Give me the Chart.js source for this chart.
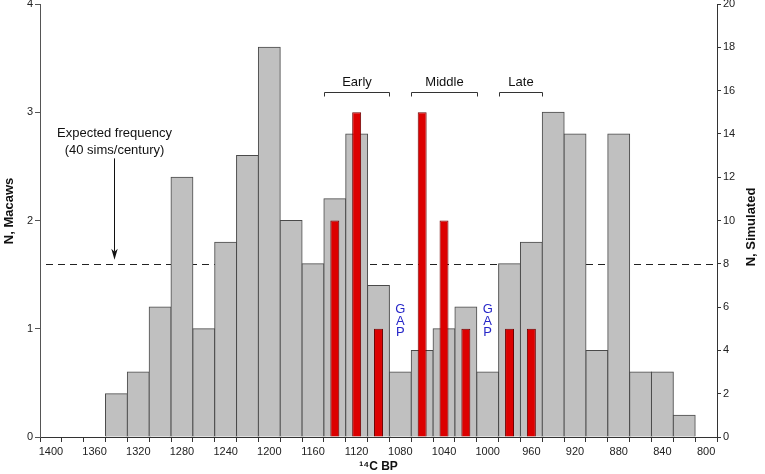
<!DOCTYPE html>
<html>
<head>
<meta charset="utf-8">
<script src="https://cdn.jsdelivr.net/npm/chart.js@4/dist/chart.umd.min.js"></script>
<style>
  html, body { margin: 0; padding: 0; background: #fff; }
  #c { display: block; }
</style>
</head>
<body>
<canvas id="c" width="765" height="474"></canvas>
<script>
// ---------- data ----------
const binLabels = [1400,1380,1360,1340,1320,1300,1280,1260,1240,1220,1200,1180,1160,1140,1120,1100,1080,1060,1040,1020,1000,980,960,940,920,900,880,860,840,820,800];
// simulated dates per 20-yr bin (right axis)
const simulatedCounts = [0,0,0,2,3,6,12,5,9,13,18,10,8,11,14,7,3,4,5,6,3,8,9,15,14,4,14,3,3,1,0];
// macaw dates per 20-yr bin (left axis)
const macawCounts = [null,null,null,null,null,null,null,null,null,null,null,null,null,2,3,1,null,3,2,1,null,1,1,null,null,null,null,null,null,null,null];
const expectedSimulated = 8;          // 40 sims/century -> 8 per 20-yr bin
const periodNames = ['Early','Middle','Late'];
const periodFirstBin = [1140,1060,980];
const periodLastBin  = [1100,1020,960];
const gapBins = [1080,1000];
const macawTicks = [0,1,2,3,4];
const simTicks = [0,2,4,6,8,10,12,14,16,18,20];

const FONT = '"Liberation Sans", Arial, Helvetica, sans-serif';

const annotations = {
  id: 'annotations',
  beforeDatasetsDraw(chart) {
    const {ctx, chartArea, scales} = chart;
    const y = Math.round(scales.y1.getPixelForValue(expectedSimulated)) + 0.5;
    ctx.save();
    ctx.strokeStyle = '#222';
    ctx.lineWidth = 1;
    ctx.setLineDash([7,5]);
    ctx.beginPath();
    ctx.moveTo(chartArea.left + 6, y);
    ctx.lineTo(chartArea.right, y);
    ctx.stroke();
    ctx.restore();
  },
  afterDraw(chart) {
    const {ctx, chartArea, scales} = chart;
    const xs = scales.x, ys = scales.y;
    const binW = (chartArea.right - chartArea.left) / binLabels.length;
    const cx = lab => xs.getPixelForValue(binLabels.indexOf(lab));
    ctx.save();
    ctx.fillStyle = '#111';
    ctx.font = '13px ' + FONT;
    ctx.textAlign = 'center';
    ctx.textBaseline = 'middle';

    // Expected frequency label and arrow
    const ax = Math.round(xs.getPixelForValue(2.89)) + 0.5;
    ctx.fillText('Expected frequency', ax, ys.getPixelForValue(2.806));
    ctx.fillText('(40 sims/century)', ax, ys.getPixelForValue(2.648));
    const lineY = scales.y1.getPixelForValue(expectedSimulated);
    const tip = lineY - 4;
    ctx.strokeStyle = '#111';
    ctx.lineWidth = 1;
    ctx.beginPath();
    ctx.moveTo(ax, ys.getPixelForValue(2.574));
    ctx.lineTo(ax, tip - 8);
    ctx.stroke();
    ctx.beginPath();
    ctx.moveTo(ax, tip);
    ctx.lineTo(ax - 3.2, tip - 11);
    ctx.lineTo(ax, tip - 8);
    ctx.lineTo(ax + 3.2, tip - 11);
    ctx.closePath();
    ctx.fill();

    // period brackets
    const by = Math.round(ys.getPixelForValue(3.185)) + 0.5;
    ctx.strokeStyle = '#333';
    periodNames.forEach((name, i) => {
      const x0 = Math.round(cx(periodFirstBin[i]) - binW / 2) + 0.5;
      const x1 = Math.round(cx(periodLastBin[i]) + binW / 2) + 0.5;
      ctx.beginPath();
      ctx.moveTo(x0, by + 4);
      ctx.lineTo(x0, by);
      ctx.lineTo(x1, by);
      ctx.lineTo(x1, by + 4);
      ctx.stroke();
      ctx.fillStyle = '#111';
      ctx.fillText(name, (x0 + x1) / 2, ys.getPixelForValue(3.278));
    });

    // GAP labels
    ctx.fillStyle = '#2626c8';
    gapBins.forEach(lab => {
      const x = cx(lab);
      ['G','A','P'].forEach((ch, k) => {
        ctx.fillText(ch, x, ys.getPixelForValue([1.179, 1.068, 0.963][k]));
      });
    });

    // y axis titles (both read bottom-to-top)
    ctx.fillStyle = '#111';
    ctx.font = 'bold 13px ' + FONT;
    ctx.save();
    ctx.translate(9, 211);
    ctx.rotate(-Math.PI / 2);
    ctx.fillText('N, Macaws', 0, 0);
    ctx.restore();
    ctx.save();
    ctx.translate(751, 227);
    ctx.rotate(-Math.PI / 2);
    ctx.fillText('N, Simulated', 0, 0);
    ctx.restore();

    ctx.restore();
  }
};

new Chart(document.getElementById('c'), {
  type: 'bar',
  data: {
    labels: binLabels.map(String),
    datasets: [
      {
        label: 'Macaws',
        data: macawCounts,
        yAxisID: 'y',
        backgroundColor: '#dc0000',
        borderColor: '#6e0000',
        borderWidth: 1,
        borderSkipped: 'start',
        inflateAmount: 0,
        barPercentage: 0.41,
        categoryPercentage: 1,
        grouped: false,
        order: 1
      },
      {
        label: 'Simulated',
        data: simulatedCounts,
        yAxisID: 'y1',
        backgroundColor: '#c0c0c0',
        borderColor: '#4a4a4a',
        borderWidth: 1,
        borderSkipped: 'start',
        inflateAmount: 0.5,
        barPercentage: 1,
        categoryPercentage: 1,
        grouped: false,
        order: 2
      }
    ]
  },
  options: {
    responsive: false,
    animation: false,
    devicePixelRatio: 1,
    layout: { padding: 0 },
    plugins: { legend: { display: false }, tooltip: { enabled: false } },
    scales: {
      x: {
        type: 'category',
        offset: true,
        grid: { display: true, drawOnChartArea: false, drawTicks: true, tickLength: 5, offset: true, color: '#333' },
        border: { display: true, color: '#333' },
        ticks: {
          autoSkip: false, maxRotation: 0, minRotation: 0, padding: 3,
          color: '#222', font: { family: FONT, size: 11 },
          callback: (v, i) => (i % 2 === 0 ? String(binLabels[i]) : '')
        },
        title: { display: true, text: '¹⁴C BP', color: '#111', font: { family: FONT, size: 12, weight: 'bold' }, padding: { top: 0, bottom: 0 } },
        afterFit: s => { s.height = 37; }
      },
      y: {
        position: 'left',
        min: 0, max: 4,
        afterBuildTicks: s => { s.ticks = macawTicks.map(v => ({ value: v })); },
        grid: { display: true, drawOnChartArea: false, drawTicks: true, tickLength: 5, color: '#555' },
        border: { display: true, color: '#555' },
        ticks: { padding: 2, color: '#222', font: { family: FONT, size: 11 } },
        afterFit: s => { s.width = 40; s.paddingTop = 4; }
      },
      y1: {
        position: 'right',
        min: 0, max: 20,
        afterBuildTicks: s => { s.ticks = simTicks.map(v => ({ value: v })); },
        grid: { display: true, drawOnChartArea: false, drawTicks: true, tickLength: 4, color: '#333' },
        border: { display: true, color: '#333' },
        ticks: { padding: 2, color: '#222', font: { family: FONT, size: 11 } },
        afterFit: s => { s.width = 48; s.paddingTop = 4; }
      }
    }
  },
  plugins: [annotations]
});
</script>
</body>
</html>
